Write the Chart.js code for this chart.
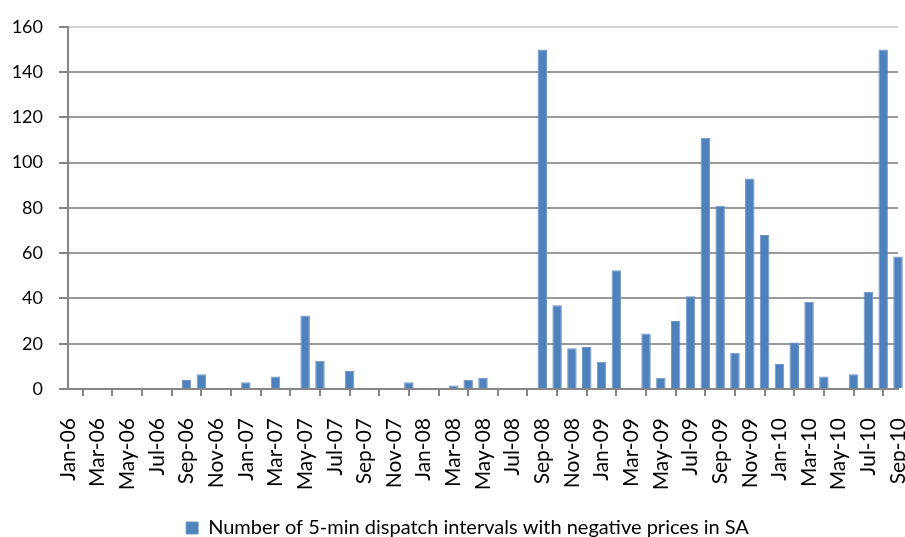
<!DOCTYPE html>
<html lang="en">
<head>
  <meta charset="UTF-8">
  <title>Negative prices in SA</title>
  <style>
    html, body {
      margin: 0;
      padding: 0;
      background-color: #fff;
    }
    canvas {
      display: block;
    }
  </style>
  <script src="https://cdn.jsdelivr.net/npm/chart.js"></script>
</head>
<body>

<canvas id="chart" width="905" height="537"></canvas>

<script>
const months = [
  "Jan-06", "Feb-06", "Mar-06", "Apr-06", "May-06", "Jun-06", "Jul-06", "Aug-06", "Sep-06", "Oct-06", "Nov-06", "Dec-06",
  "Jan-07", "Feb-07", "Mar-07", "Apr-07", "May-07", "Jun-07", "Jul-07", "Aug-07", "Sep-07", "Oct-07", "Nov-07", "Dec-07",
  "Jan-08", "Feb-08", "Mar-08", "Apr-08", "May-08", "Jun-08", "Jul-08", "Aug-08", "Sep-08", "Oct-08", "Nov-08", "Dec-08",
  "Jan-09", "Feb-09", "Mar-09", "Apr-09", "May-09", "Jun-09", "Jul-09", "Aug-09", "Sep-09", "Oct-09", "Nov-09", "Dec-09",
  "Jan-10", "Feb-10", "Mar-10", "Apr-10", "May-10", "Jun-10", "Jul-10", "Aug-10", "Sep-10"
];

const negativeIntervals = [
  0, 0, 0, 0, 0, 0, 0, 0, 4, 6.5, 0, 0,
  3, 0.5, 5.5, 0, 32.5, 12.5, 0, 8, 0, 0, 0, 3,
  0.5, 0, 1.5, 4, 5, 0, 0, 0, 150, 37, 18, 18.5,
  12, 52.5, 0.5, 24.5, 5, 30, 41, 111, 81, 16, 93, 68,
  11, 20.5, 38.5, 5.5, 0, 6.5, 43, 150, 58.5
];

const yTicks = [0, 20, 40, 60, 80, 100, 120, 140, 160];

const seriesName = "Number of 5-min dispatch intervals with negative prices in SA";

const axisColor = "#868686";
const font = "Lato, 'Open Sans', sans-serif";

// legend in the original is centred under the plot, not the whole canvas
const shiftLegend = {
  id: "shiftLegend",
  afterLayout(chart) {
    chart.legend.left += 18;
    chart.legend.right += 18;
  }
};

new Chart(document.getElementById("chart").getContext("2d"), {
  type: "bar",
  data: {
    labels: months,
    datasets: [{
      label: seriesName,
      data: negativeIntervals,
      backgroundColor: "#4f81bd",
      borderColor: "#6f95c8",
      borderWidth: 1,
      barPercentage: 0.64,
      categoryPercentage: 1,
      clip: false
    }]
  },
  options: {
    responsive: false,
    animation: false,
    layout: {
      // legend sits low, partly cut by the bottom edge as in the original
      padding: { top: 20, right: 7, left: 1, bottom: -11 }
    },
    plugins: {
      tooltip: { enabled: false },
      legend: {
        position: "bottom",
        labels: {
          color: "#000",
          boxWidth: 12,
          boxHeight: 12,
          padding: 6,
          font: { family: font, size: 20 }
        }
      }
    },
    scales: {
      x: {
        type: "category",
        offset: false,
        grid: {
          drawOnChartArea: false,
          tickLength: 7,
          color: axisColor,
          lineWidth: 2
        },
        border: { color: axisColor, width: 2 },
        ticks: {
          autoSkip: false,
          maxRotation: 90,
          minRotation: 90,
          padding: 22,
          color: "#000",
          font: { family: font, size: 21 },
          callback: function(value, index) {
            return index % 2 === 0 ? this.getLabelForValue(value) : null;
          }
        },
        afterFit: function(scale) {
          scale.height = 123;
          scale.paddingLeft = 0;
          scale.paddingRight = 0;
        }
      },
      y: {
        min: 0,
        max: 160,
        afterBuildTicks: function(scale) {
          scale.ticks = yTicks.map(v => ({ value: v }));
        },
        grid: {
          color: ctx => ctx.tick && ctx.tick.value === 160 ? "#d4d4d4" : "#9a9a9a",
          lineWidth: 2,
          tickLength: 9,
          tickColor: axisColor
        },
        border: { color: axisColor, width: 2 },
        ticks: {
          padding: 16,
          color: "#000",
          font: { family: font, size: 18 }
        },
        afterFit: function(scale) {
          scale.width = 67;
        }
      }
    }
  },
  plugins: [shiftLegend]
});
</script>

</body>
</html>
